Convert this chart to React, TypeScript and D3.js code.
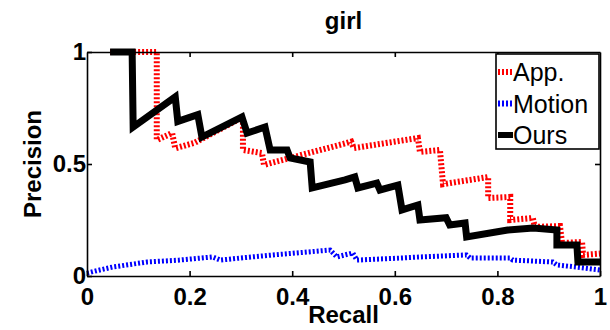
import * as d3 from 'd3';
import React, { useEffect, useRef } from 'react';

const appCurve: [number, number][] = [
    [0.045, 1], [0.136, 1], [0.136, 0.607], [0.166, 0.638], [0.172, 0.57], [0.21, 0.595],
    [0.304, 0.71], [0.304, 0.5625], [0.341, 0.549], [0.345, 0.496], [0.5, 0.59], [0.515, 0.6],
    [0.52, 0.571], [0.645, 0.616], [0.649, 0.554], [0.688, 0.5625], [0.694, 0.41], [0.782, 0.442],
    [0.782, 0.348], [0.825, 0.353], [0.825, 0.25], [0.869, 0.259], [0.873, 0.219], [0.922, 0.223],
    [0.926, 0.147], [0.965, 0.152], [0.967, 0.094], [1.0, 0.1],
];
const motionCurve: [number, number][] = [
    [0, 0.013], [0.025, 0.027], [0.05, 0.04], [0.117, 0.0625], [0.18, 0.071], [0.245, 0.085],
    [0.26, 0.071], [0.298, 0.08], [0.363, 0.094], [0.429, 0.107], [0.474, 0.116], [0.487, 0.085],
    [0.518, 0.103], [0.526, 0.071], [0.61, 0.08], [0.649, 0.085], [0.74, 0.094], [0.747, 0.08],
    [0.825, 0.08], [0.83, 0.071], [0.908, 0.0625], [0.916, 0.049], [0.955, 0.04], [1.0, 0.027],
];
const oursCurve: [number, number][] = [
    [0.045, 1], [0.088, 1], [0.09, 0.665], [0.172, 0.8], [0.177, 0.69], [0.216, 0.72], [0.224, 0.62],
    [0.302, 0.71], [0.312, 0.638], [0.347, 0.665], [0.357, 0.5625], [0.39, 0.5625], [0.396, 0.527],
    [0.435, 0.509], [0.439, 0.393], [0.503, 0.429], [0.522, 0.442], [0.528, 0.393], [0.565, 0.415],
    [0.571, 0.384], [0.606, 0.406], [0.614, 0.295], [0.645, 0.317], [0.649, 0.25], [0.7, 0.26],
    [0.707, 0.228], [0.737, 0.237], [0.74, 0.174], [0.82, 0.205], [0.87, 0.214], [0.916, 0.205],
    [0.916, 0.138], [0.955, 0.138], [0.957, 0.0625], [1.0, 0.0625],
];
const seriesNames = ['App.', 'Motion', 'Ours'];
const xTicks = [0, 0.2, 0.4, 0.6, 0.8, 1];
const yTicks = [0, 0.5, 1];

const FONT = '"Liberation Sans", Arial, Helvetica, sans-serif';

export default () => {
    const ref = useRef<any>();

    useEffect(() => {
        const width = 610;
        const height = 330;
        const margin = { top: 52, right: 10, bottom: 54, left: 87 };
        const boundedWidth = width - margin.left - margin.right;
        const boundedHeight = height - margin.top - margin.bottom;

        const svg = d3.select<any, any>(ref.current)
            .attr('width', width)
            .attr('height', height);
        svg.selectAll('*').remove();

        svg.append('rect').attr('width', width).attr('height', height).attr('fill', 'white');

        const stage = svg.append('g')
            .attr('transform', `translate(${margin.left},${margin.top})`);

        const x = d3.scaleLinear().domain([0, 1]).range([0, boundedWidth]);
        const y = d3.scaleLinear().domain([0, 1]).range([boundedHeight, 0]);

        const styleAxis = (g: any) => {
            g.selectAll('.domain').attr('stroke', '#000').attr('stroke-width', 1.6);
            g.selectAll('.tick line').attr('stroke', '#000').attr('stroke-width', 1.6);
            g.selectAll('text')
                .attr('font-family', FONT)
                .attr('font-size', 24)
                .attr('font-weight', 'bold')
                .attr('fill', '#000');
        };

        const line = d3.line<[number, number]>()
            .x((d) => x(d[0]))
            .y((d) => y(d[1]))
            .curve(d3.curveLinear);

        const series = [
            { name: seriesNames[0], data: appCurve, color: '#ff0000', width: 6, dash: '2,2' },
            { name: seriesNames[1], data: motionCurve, color: '#0000ff', width: 5, dash: '2,2' },
            { name: seriesNames[2], data: oursCurve, color: '#000000', width: 7, dash: null },
        ];

        const lines = stage.append('g').attr('class', 'lines');
        series.forEach((s) => {
            lines.append('path')
                .datum(s.data)
                .attr('d', line as any)
                .attr('fill', 'none')
                .attr('stroke', s.color)
                .attr('stroke-width', s.width)
                .attr('stroke-dasharray', s.dash)
                .attr('stroke-linejoin', 'miter');
        });

        // axes (matlab style box with inward ticks)
        stage.append('g')
            .attr('transform', `translate(0,${boundedHeight})`)
            .call(d3.axisBottom(x).tickValues(xTicks).tickSize(-5).tickSizeOuter(0).tickPadding(12)
                .tickFormat((d: any) => String(d)))
            .call(styleAxis);
        stage.append('g')
            .call(d3.axisTop(x).tickValues(xTicks.slice(1, -1)).tickSize(-5).tickSizeOuter(0)
                .tickFormat(() => ''))
            .call(styleAxis);
        stage.append('g')
            .call(d3.axisLeft(y).tickValues(yTicks).tickSize(-5).tickSizeOuter(0).tickPadding(1)
                .tickFormat((d: any) => String(d)))
            .call(styleAxis);
        stage.append('g')
            .attr('transform', `translate(${boundedWidth},0)`)
            .call(d3.axisRight(y).tickValues([0.5]).tickSize(-5).tickSizeOuter(0)
                .tickFormat(() => ''))
            .call(styleAxis);

        // legend
        const legend = stage.append('g')
            .attr('transform', `translate(${x(1) - 104},${2})`);
        legend.append('rect')
            .attr('width', 103)
            .attr('height', 95)
            .attr('fill', 'white')
            .attr('stroke', '#000')
            .attr('stroke-width', 1.6);
        series.forEach((s, i) => {
            const cy = 18 + i * 31.5;
            legend.append('line')
                .attr('x1', 2).attr('x2', 17)
                .attr('y1', cy).attr('y2', cy)
                .attr('stroke', s.color)
                .attr('stroke-width', 6)
                .attr('stroke-dasharray', s.dash);
            legend.append('text')
                .attr('x', 17)
                .attr('y', cy + 9)
                .attr('font-family', FONT)
                .attr('font-size', 25)
                .attr('fill', '#000')
                .text(s.name);
        });

        // title and axis labels
        svg.append('text')
            .attr('x', margin.left + boundedWidth / 2)
            .attr('y', 29)
            .attr('text-anchor', 'middle')
            .attr('font-family', FONT)
            .attr('font-size', 24)
            .attr('font-weight', 'bold')
            .text('girl');
        svg.append('text')
            .attr('x', margin.left + boundedWidth / 2)
            .attr('y', 323)
            .attr('text-anchor', 'middle')
            .attr('font-family', FONT)
            .attr('font-size', 24)
            .attr('font-weight', 'bold')
            .text('Recall');
        svg.append('text')
            .attr('transform', `translate(41,${margin.top + boundedHeight / 2}) rotate(-90)`)
            .attr('text-anchor', 'middle')
            .attr('font-family', FONT)
            .attr('font-size', 24)
            .attr('font-weight', 'bold')
            .text('Precision');
    });

    return (
        <svg ref={ref} style={{ position: 'absolute', left: 0, top: 0 }}></svg>
    );
};
